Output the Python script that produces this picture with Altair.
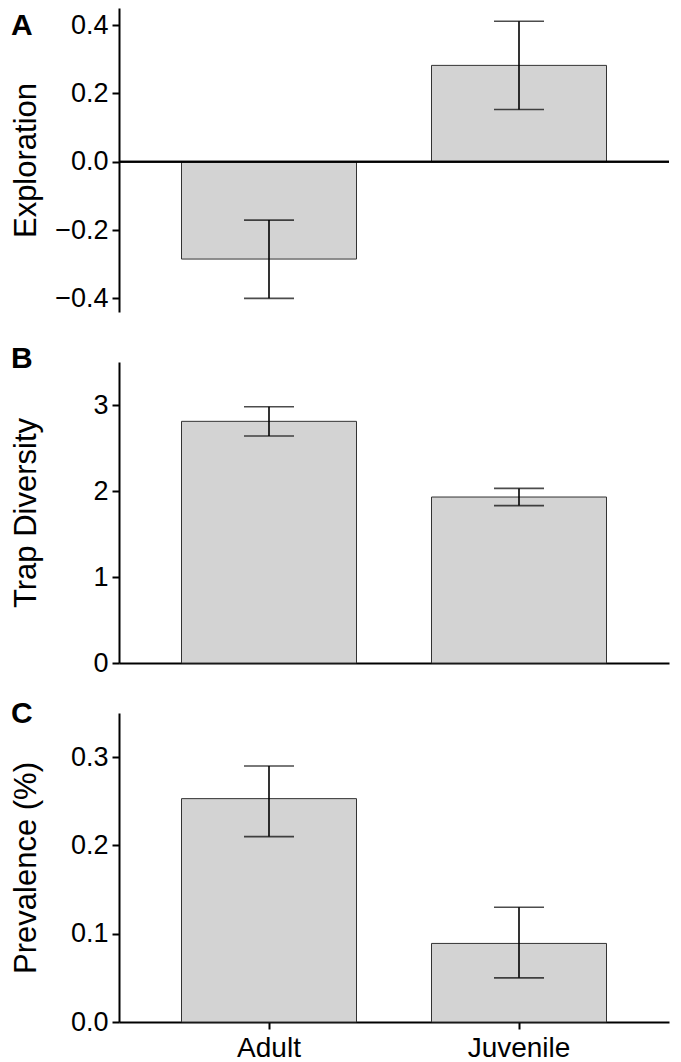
import altair as alt
import pandas as pd

groups = ["Adult", "Juvenile"]

explor_mean = [-0.285, 0.282]
explor_lo = [-0.400, 0.153]
explor_hi = [-0.171, 0.411]

div_mean = [2.81, 1.93]
div_lo = [2.64, 1.83]
div_hi = [2.98, 2.03]

prev_mean = [0.253, 0.089]
prev_lo = [0.210, 0.050]
prev_hi = [0.290, 0.130]

explor_ticks = [-0.4, -0.2, 0.0, 0.2, 0.4]
div_ticks = [0, 1, 2, 3]
prev_ticks = [0.0, 0.1, 0.2, 0.3]

FONT = "Liberation Sans"
W = 550


def panel(mean, lo, hi, title, domain, ticks, fmt, height, letter, letter_y, xaxis, zero_rule):
    df = pd.DataFrame({"group": groups, "mean": mean, "lo": lo, "hi": hi})
    base = alt.Chart(df)
    xscale = alt.Scale(paddingInner=0.3, paddingOuter=0.25)
    xenc = alt.X("group:N", sort=groups, scale=xscale, axis=xaxis, title=None)
    yscale = alt.Scale(domain=domain, nice=False, zero=False)
    yaxis = alt.Axis(values=ticks, format=fmt, titleX=-84, titleBaseline="alphabetic",
                     titleAngle=270, titleAnchor="middle")
    bars = base.mark_bar(fill="#d3d3d3", stroke="#333333", strokeWidth=1).encode(
        x=xenc,
        y=alt.Y("mean:Q", scale=yscale, axis=yaxis, title=title),
        y2=alt.Y2Datum(0),
    )
    layers = [bars]
    if zero_rule:
        layers.append(
            base.mark_rule(color="black", strokeWidth=2).encode(
                y=alt.YDatum(0, scale=yscale, axis=yaxis, title=title)
            )
        )
    err = base.mark_rule(color="black", strokeWidth=1.6).encode(
        x=xenc,
        y=alt.Y("lo:Q", scale=yscale, axis=yaxis, title=title),
        y2="hi:Q",
    )
    cap_lo = base.mark_tick(color="black", size=50, thickness=1.6, orient="horizontal").encode(
        x=xenc, y=alt.Y("lo:Q", scale=yscale, axis=yaxis, title=title)
    )
    cap_hi = base.mark_tick(color="black", size=50, thickness=1.6, orient="horizontal").encode(
        x=xenc, y=alt.Y("hi:Q", scale=yscale, axis=yaxis, title=title)
    )
    lab = alt.Chart(pd.DataFrame({"t": [letter]})).mark_text(
        font=FONT, fontSize=30, fontWeight="bold", align="left", baseline="alphabetic", color="black"
    ).encode(text="t:N", x=alt.value(-108), y=alt.value(letter_y))
    layers += [err, cap_lo, cap_hi, lab]
    return alt.layer(*layers).properties(width=W, height=height)


pA = panel(explor_mean, explor_lo, explor_hi, "Exploration", [-0.44, 0.45], explor_ticks, ".1f",
           304, "A", 27, None, True)
pB = panel(div_mean, div_lo, div_hi, "Trap Diversity", [0, 3.5], div_ticks, "d",
           301, "B", 6,
           alt.Axis(labels=False, ticks=False, title=None, domain=True), False)
pC = panel(prev_mean, prev_lo, prev_hi, "Prevalence (%)", [0, 0.35], prev_ticks, ".1f",
           309, "C", 10,
           alt.Axis(labelAngle=0, labelFontSize=28, labelPadding=5, title=None), False)

chart = alt.vconcat(pA, pB, pC, spacing=50, bounds="flush").properties(
    padding={"left": 2, "top": 0, "right": 0, "bottom": 0}, background="white"
).configure_view(stroke=None).configure_axis(
    domainColor="black", domainWidth=2, tickColor="black", tickWidth=2, tickSize=7,
    labelColor="black", labelFont=FONT, labelFontSize=27, labelPadding=4,
    titleFont=FONT, titleFontSize=31, titleFontWeight="normal", titleColor="black",
    grid=False,
)

chart.save("out.html", embed_options={"renderer": "svg", "actions": False})
